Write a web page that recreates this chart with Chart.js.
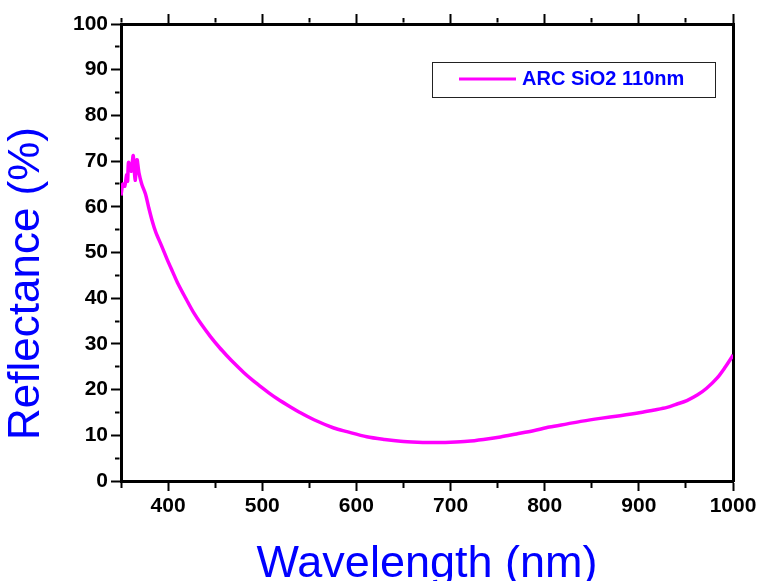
<!DOCTYPE html>
<html>
<head>
<meta charset="utf-8">
<title>ARC SiO2 110nm reflectance</title>
<script src="https://cdn.jsdelivr.net/npm/chart.js@4.4.1/dist/chart.umd.min.js"></script>
<style>
  html, body { margin: 0; padding: 0; background: #fff; }
  #wrap { width: 760px; height: 581px; }
</style>
</head>
<body>
<div id="wrap"><canvas id="chart" width="760" height="581"></canvas></div>
<script>
// --- data ---
const wavelength = [
  350, 352, 354, 356, 357, 358, 360, 361, 363, 365, 367, 369, 372, 376, 379,
  383, 387, 393, 399, 405, 410, 420, 427, 435, 445, 455, 463, 470, 480, 490,
  498, 507, 516, 530, 540, 555, 576, 590, 611, 630, 647, 665, 682, 700, 718,
  735, 753, 770, 788, 805, 824, 840, 859, 880, 902, 915, 930, 940, 951, 962,
  972, 983, 992, 999, 1000
];
const reflectance = [
  62.5, 65.0, 64.5, 67.0, 65.6, 69.7, 68.5, 67.8, 71.2, 65.8, 70.3, 67.5, 65.0, 62.8, 60.2,
  57.0, 54.4, 51.5, 48.5, 45.7, 43.4, 39.5, 36.9, 34.4, 31.6, 29.1, 27.3, 25.8, 23.8, 22.0,
  20.7, 19.3, 18.0, 16.2, 15.0, 13.4, 11.6, 10.8, 9.7, 9.1, 8.7, 8.5, 8.4, 8.5, 8.7,
  9.1, 9.65, 10.3, 11.0, 11.8, 12.5, 13.1, 13.7, 14.3, 15.0, 15.5, 16.1, 16.8, 17.6, 18.8,
  20.3, 22.5, 25.0, 27.2, 27.6
];
const seriesName = 'ARC SiO2 110nm';
const xLabelValues = [400, 500, 600, 700, 800, 900, 1000];
const yLabelValues = [0, 10, 20, 30, 40, 50, 60, 70, 80, 90, 100];
const xTitle = 'Wavelength (nm)';
const yTitle = 'Reflectance (%)';

const FONT = 'Arial, "Liberation Sans", sans-serif';
const BLUE = '#0000ff';
const MAGENTA = '#ff00ff';

// minor ticks: only the part next to the axis line is drawn
const minorX = ctx => ctx.tick && ctx.tick.value % 100 !== 0;
const minorY = ctx => ctx.tick && ctx.tick.value % 10 !== 0;

// y axis title, drawn a bit below the middle like the original
const yTitlePlugin = {
  id: 'yTitle',
  afterDraw(chart) {
    const { ctx, chartArea } = chart;
    ctx.save();
    ctx.font = '44px ' + FONT;
    ctx.fillStyle = BLUE;
    ctx.textAlign = 'center';
    ctx.textBaseline = 'middle';
    ctx.translate(27, (chartArea.top + chartArea.bottom) / 2 + 31);
    ctx.rotate(-Math.PI / 2);
    ctx.fillText(yTitle, 0, 0);
    ctx.restore();
  }
};

// boxed legend inside the plot, as in the original
const boxLegend = {
  id: 'boxLegend',
  afterDatasetsDraw(chart) {
    const ds = chart.data.datasets[0];
    const ctx = chart.ctx;
    const bx = 432, by = 62, bw = 283, bh = 35;
    ctx.save();
    ctx.fillStyle = '#fff';
    ctx.fillRect(bx, by, bw, bh);
    ctx.strokeStyle = '#222';
    ctx.lineWidth = 1;
    ctx.strokeRect(bx + 0.5, by + 0.5, bw, bh);
    ctx.strokeStyle = ds.borderColor;
    ctx.lineWidth = 3;
    ctx.beginPath();
    ctx.moveTo(459, 79);
    ctx.lineTo(516, 79);
    ctx.stroke();
    ctx.font = 'bold 20px ' + FONT;
    ctx.fillStyle = BLUE;
    ctx.textAlign = 'left';
    ctx.textBaseline = 'middle';
    ctx.fillText(ds.label, 522, 79);
    ctx.restore();
  }
};

const gridBase = {
  drawOnChartArea: false,
  tickLength: 10,
  tickWidth: 2,
  tickColor: '#000'
};

const chart = new Chart(document.getElementById('chart'), {
  type: 'line',
  data: {
    datasets: [{
      label: seriesName,
      data: wavelength.map((w, i) => ({ x: w, y: reflectance[i] })),
      borderColor: MAGENTA,
      backgroundColor: MAGENTA,
      borderWidth: 3.5,
      pointRadius: 0,
      tension: 0.3,
      xAxisID: 'x',
      yAxisID: 'y'
    }]
  },
  options: {
    responsive: false,
    animation: false,
    layout: { padding: 0 },
    plugins: {
      legend: { display: false },
      tooltip: { enabled: false }
    },
    scales: {
      x: {
        type: 'linear',
        position: 'bottom',
        min: 350,
        max: 1000,
        afterFit: s => { s.height = 100; },
        ticks: {
          stepSize: 50,
          autoSkip: false,
          maxRotation: 0,
          padding: 3,
          color: '#000',
          font: { family: FONT, size: 21, weight: 'bold' },
          callback: v => xLabelValues.includes(v) ? String(v) : ''
        },
        grid: {
          ...gridBase,
          tickBorderDash: c => minorX(c) ? [5, 20] : [],
          tickBorderDashOffset: 0
        },
        border: { color: '#000', width: 3 },
        title: {
          display: true,
          text: xTitle,
          color: BLUE,
          font: { family: FONT, size: 45, lineHeight: 0.74 },
          padding: 0
        }
      },
      x2: {
        type: 'linear',
        position: 'top',
        min: 350,
        max: 1000,
        afterFit: s => { s.height = 24; },
        ticks: { display: false, stepSize: 50, autoSkip: false },
        grid: {
          ...gridBase,
          tickBorderDash: c => minorX(c) ? [4.5, 20.5] : [],
          tickBorderDashOffset: c => minorX(c) ? 21 : 0
        },
        border: { color: '#000', width: 3 }
      },
      y: {
        type: 'linear',
        position: 'left',
        min: 0,
        max: 100,
        afterFit: s => { s.width = 121; },
        ticks: {
          stepSize: 5,
          autoSkip: false,
          padding: 3,
          color: '#000',
          font: { family: FONT, size: 21, weight: 'bold' },
          callback: v => yLabelValues.includes(v) ? String(v) : ''
        },
        grid: {
          ...gridBase,
          tickBorderDash: c => minorY(c) ? [4.5, 20.5] : [],
          tickBorderDashOffset: c => minorY(c) ? 21 : 0
        },
        border: { color: '#000', width: 3 }
      },
      y2: {
        type: 'linear',
        position: 'right',
        min: 0,
        max: 100,
        afterFit: s => { s.width = 27; },
        ticks: { display: false },
        grid: { display: false },
        border: { color: '#000', width: 3 }
      }
    }
  },
  plugins: [yTitlePlugin, boxLegend]
});
</script>
</body>
</html>
